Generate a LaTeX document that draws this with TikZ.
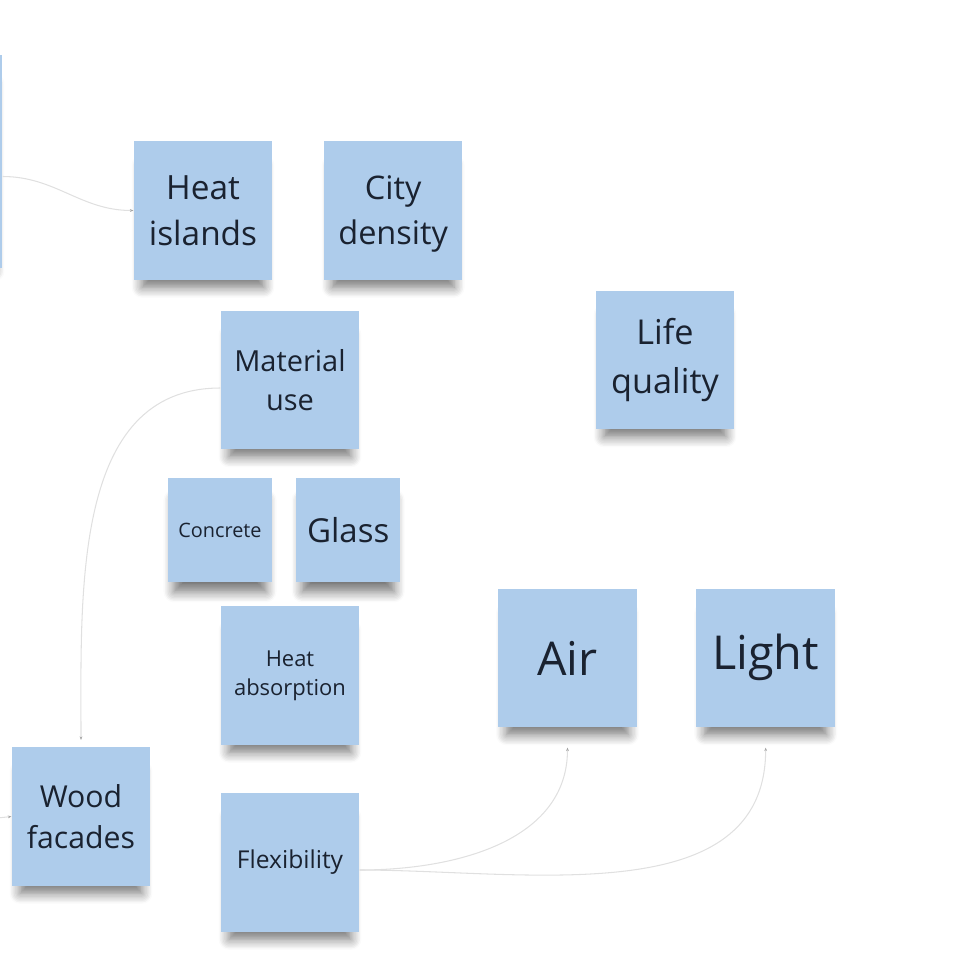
\documentclass[tikz,border=0pt]{standalone}
\usepackage{fontspec}
\setmainfont{Open Sans}
\usepackage{xcolor}
\usepackage{tikz}
\usetikzlibrary{arrows.meta,positioning,shadows.blur}
\definecolor{notefill}{RGB}{174,204,235}
\definecolor{noteink}{RGB}{26,34,48}
\definecolor{linkgray}{RGB}{224,224,224}
\tikzset{
  note/.style={rectangle,fill=notefill,text=noteink,align=center,
               minimum width=#1,minimum height=#1,inner sep=2pt,
               blur shadow={shadow xshift=0pt,shadow scale=0.88,shadow yshift=-0.36cm,
                            shadow blur radius=0.24cm,shadow blur steps=8,shadow opacity=55}},
  note/.default=2.77cm,
  link/.style={draw=linkgray,line width=0.6pt,
               -{Stealth[length=2pt,width=1.6pt,color=gray!70]}},
}
\newcommand{\fs}[2]{\fontsize{#1}{#2}\selectfont}

\begin{document}
\begin{tikzpicture}[x=0.02cm,y=-0.02cm]
    \useasboundingbox (0,0) rectangle (964,958);
    \node[note,minimum height=4.26cm] (prev) at (-67,161.5) {};
    \coordinate (wl) at (-40,822);

    \node[note,font=\fs{19}{26}] (heat) at (203,210.5) {Heat\\islands};
    \node[note,font=\fs{18.5}{25.5},right=1.02cm of heat] (city) {\strut City\\density};
    \node[note,font=\fs{16.5}{22.5}] (mat) at (290,380) {Material\\use};
    \node[note,font=\fs{19.5}{28}] (life) at (665,360) {Life\\quality};
    \node[note=2.09cm,font=\fs{11.3}{14}] (conc) at (220,530) {Concrete};
    \node[note=2.09cm,font=\fs{18.8}{24},right=0.46cm of conc] (glass) {Glass};
    \node[note,font=\fs{12.5}{16.5}] (abs) at (290,675.5) {Heat\\absorption};
    \node[note,font=\fs{26.5}{32}] (air) at (567.5,658) {Air};
    \node[note,font=\fs{26.6}{32},right=1.18cm of air] (light) {\strut Light};
    \node[note,font=\fs{17.2}{23}] (wood) at (81,816.5) {Wood\\facades};
    \node[note,font=\fs{14}{18}] (flex) at (290,862.5) {Flexibility};

    \draw[link] ([yshift=-0.3cm]prev.east) to[out=0,in=180] (heat.west);
    \draw[link] ([yshift=-0.16cm]mat.west) to[out=180,in=90] ([yshift=0.14cm]wood.north);
    \draw[link] (wl) -- (wood.west);
    \draw[link] ([yshift=-0.15cm]flex.east) to[out=0,in=-90] ([yshift=-0.4cm]air.south);
    \draw[link] ([yshift=-0.15cm]flex.east) to[out=0,in=-90] ([yshift=-0.4cm]light.south);
\end{tikzpicture}
\end{document}
